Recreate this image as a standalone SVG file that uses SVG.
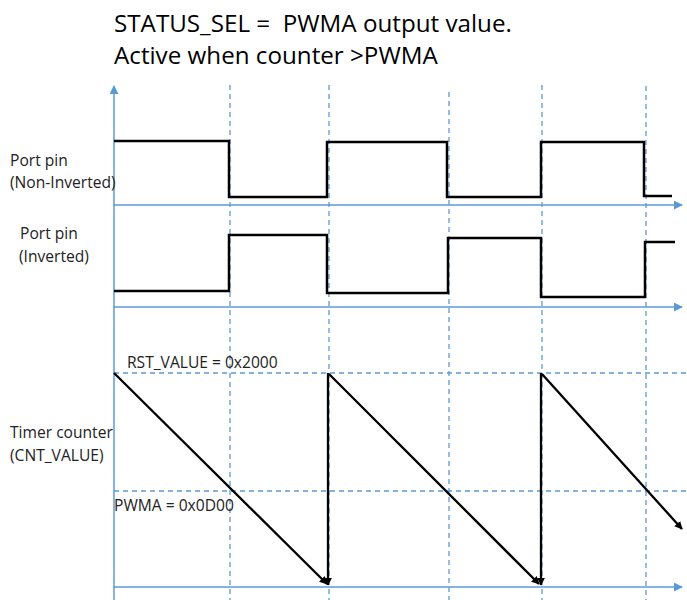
<svg xmlns="http://www.w3.org/2000/svg" width="687" height="600" viewBox="0 0 687 600">
<defs>
<style>
.ax{stroke:#5B9BD5;stroke-width:1.5;fill:none}
.dash{stroke:#5B9BD5;stroke-width:1.3;stroke-dasharray:5 4;fill:none}
.wave{stroke:#000;stroke-width:2.5;fill:none;stroke-linejoin:miter}
.saw{stroke:#000;stroke-width:2.3;fill:none}
.title{font-family:"Open Sans","Liberation Sans",sans-serif;font-size:24.2px;fill:#000;white-space:pre}
.lbl{font-family:"Open Sans","Liberation Sans",sans-serif;font-size:15.6px;fill:#222}
</style>
<marker id="ba" viewBox="0 0 10 10" refX="9" refY="5" markerWidth="9" markerHeight="9" markerUnits="userSpaceOnUse" orient="auto">
<path d="M0,0 L10,5 L0,10 z" fill="#5B9BD5"/>
</marker>
<marker id="ka" viewBox="0 0 10 10" refX="9" refY="5" markerWidth="8" markerHeight="8" markerUnits="userSpaceOnUse" orient="auto">
<path d="M0,0 L10,5 L0,10 z" fill="#000"/>
</marker>
</defs>
<rect width="687" height="600" fill="#fff"/>
<g id="title">
<text class="title" x="114" y="32" xml:space="preserve">STATUS_SEL =  PWMA output value.</text>
<text class="title" x="114" y="64">Active when counter &gt;PWMA</text>
</g>
<g id="grid">
<line class="dash" x1="230" y1="85" x2="230" y2="600"/>
<line class="dash" x1="329" y1="85" x2="329" y2="600"/>
<line class="dash" x1="449" y1="92" x2="449" y2="600"/>
<line class="dash" x1="542" y1="85" x2="542" y2="600"/>
<line class="dash" x1="646" y1="86" x2="646" y2="600"/>
<line class="dash" x1="114" y1="373" x2="687" y2="373"/>
<line class="dash" x1="114" y1="491" x2="687" y2="491"/>
</g>
<g id="axes">
<line class="ax" x1="114" y1="600" x2="114" y2="86" marker-end="url(#ba)"/>
<line class="ax" x1="114" y1="205" x2="682" y2="205" marker-end="url(#ba)"/>
<line class="ax" x1="114" y1="307" x2="682" y2="307" marker-end="url(#ba)"/>
<line class="ax" x1="114" y1="587" x2="682" y2="587" marker-end="url(#ba)"/>
</g>
<g id="non-inverted">
<polyline class="wave" points="114,141 229,141 229,197 327,197 327,142 447,142 447,197 541,197 541,142 644,142 644,196 672,196"/>
<text class="lbl" x="10" y="166">Port pin</text>
<text class="lbl" x="10" y="188">(Non-Inverted)</text>
</g>
<g id="inverted">
<polyline class="wave" points="114,291 229,291 229,235 327,235 327,293 448,293 448,238 541,238 541,297 645,297 645,242 675,242"/>
<text class="lbl" x="20" y="239">Port pin</text>
<text class="lbl" x="19" y="262">(Inverted)</text>
</g>
<g id="timer-counter">
<text class="lbl" x="10" y="438">Timer counter</text>
<text class="lbl" x="10" y="461">(CNT_VALUE)</text>
<text class="lbl" x="127" y="368">RST_VALUE = 0x2000</text>
<text class="lbl" x="114" y="511">PWMA = 0x0D00</text>
</g>
<g id="connectors">
<line class="saw" x1="114" y1="373" x2="327" y2="584" marker-end="url(#ka)"/>
<line class="saw" x1="328" y1="373" x2="328" y2="585" marker-end="url(#ka)"/>
<line class="saw" x1="329" y1="374" x2="539" y2="584" marker-end="url(#ka)"/>
<line class="saw" x1="541" y1="373" x2="541" y2="585" marker-end="url(#ka)"/>
<line class="saw" x1="542" y1="374" x2="682" y2="529" marker-end="url(#ka)"/>
</g>
</svg>
